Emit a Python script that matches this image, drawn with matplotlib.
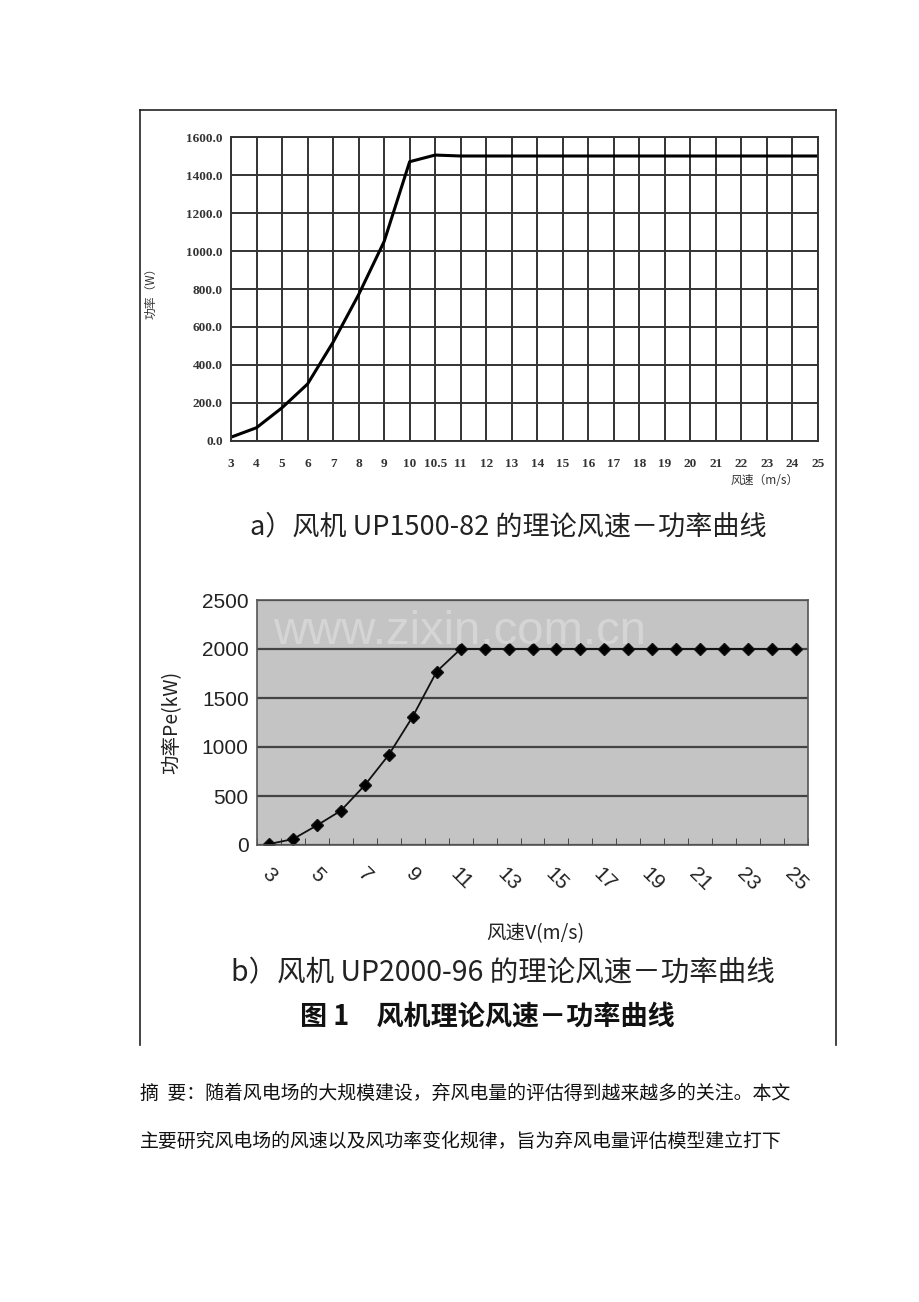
import matplotlib
matplotlib.use("Agg")
import matplotlib.pyplot as plt
from matplotlib.lines import Line2D
import numpy as np

plt.rcParams['font.family'] = ['Noto Sans CJK SC', 'DejaVu Sans']

# chart a
a_labels = ["3","4","5","6","7","8","9","10","10.5","11","12","13","14","15","16","17","18","19","20","21","22","23","24","25"]
a_values = [20,70,175,300,520,770,1050,1470,1505,1500,1500,1500,1500,1500,1500,1500,1500,1500,1500,1500,1500,1500,1500,1500]
a_yticks = [0,200,400,600,800,1000,1200,1400,1600]

# chart b
b_speeds = list(range(3, 26))
b_values = [10,60,200,350,610,920,1310,1770] + [2000]*15
b_yticks = [0,500,1000,1500,2000,2500]

fig = plt.figure(figsize=(9.2, 13.02), dpi=100)
W, H = 920, 1302
def fx(x): return x / W
def fy(y): return 1 - y / H

# frame
for (x0, y0, x1, y1) in [(140,110,836,110),(140,110,140,1045),(836,110,836,1045)]:
    fig.add_artist(Line2D([fx(x0), fx(x1)], [fy(y0), fy(y1)], color='#222222', lw=1.2))

# ---- chart a
ax1 = fig.add_axes([fx(231), fy(441), fx(818-231), (441-137)/H])
xa = np.arange(len(a_labels))
ax1.plot(xa, a_values, color='black', lw=2.2)
ax1.set_xlim(0, len(a_labels)-1)
ax1.set_ylim(0, 1600)
ax1.set_xticks(xa)
ax1.set_xticklabels(a_labels, family='Liberation Serif', fontsize=9.5, fontweight='bold', color='#333333')
ax1.set_yticks(a_yticks)
ax1.set_yticklabels([f"{v:.1f}" for v in a_yticks], family='Liberation Serif', fontsize=9.5, fontweight='bold', color='#333333')
ax1.grid(True, color='#333333', lw=1.4)
ax1.tick_params(length=0, pad=12)
ax1.tick_params(axis='y', pad=6)
for s in ax1.spines.values():
    s.set_color('#333333'); s.set_linewidth(1.4)
fig.text(fx(151), fy(290), "功率（W）", rotation=90, fontsize=8.5, ha='center', va='center', color='#333333')
fig.text(fx(765), fy(481), "风速（m/s）", fontsize=8.5, ha='center', va='center', color='#333333')
fig.text(fx(508), fy(527), "a）风机 UP1500-82 的理论风速－功率曲线", fontsize=19.5, ha='center', va='center', color='#222222')

# ---- chart b
ax2 = fig.add_axes([fx(257), fy(845), fx(808-257), (845-600)/H])
ax2.set_facecolor('#c4c4c4')
xb = np.arange(len(b_speeds)) + 0.5
ax2.plot(xb, b_values, color='#111111', lw=1.3, marker='D', markersize=6, markerfacecolor='black')
ax2.set_xlim(0, len(b_speeds))
ax2.set_ylim(0, 2500)
ax2.set_yticks(b_yticks)
ax2.set_yticklabels([str(v) for v in b_yticks], fontsize=15, family='Liberation Sans', color='#222222')
ax2.yaxis.grid(True, color='#444444', lw=1.6)
ax2.set_xticks(xb[::2])
ax2.set_xticklabels([str(v) for v in b_speeds[::2]], rotation=-45, ha='center', fontsize=15,
                    family='Liberation Sans', color='#222222')
ax2.tick_params(axis='x', length=0, pad=14)
ax2.tick_params(axis='y', length=0, pad=6)
ax2.set_xticks(np.arange(len(b_speeds)+1), minor=True)
ax2.tick_params(axis='x', which='minor', direction='in', length=5, color='#333333')
for s in ax2.spines.values():
    s.set_color('#555555'); s.set_linewidth(1.2)
fig.text(fx(172), fy(722), "功率Pe(kW)", rotation=90, fontsize=14, ha='center', va='center', color='#222222')
fig.text(fx(535), fy(934), "风速V(m/s)", fontsize=14, ha='center', va='center', color='#222222')
fig.text(fx(460), fy(632), "www.zixin.com.cn", fontsize=34, ha='center', va='center', color='#d9d9d9', alpha=0.85,
         family='Liberation Sans')
fig.text(fx(503), fy(973), "b）风机 UP2000-96 的理论风速－功率曲线", fontsize=20.5, ha='center', va='center', color='#222222')
fig.text(fx(487), fy(1017), "图 1　风机理论风速－功率曲线", fontsize=19.5, ha='center', va='center', color='#111111', fontweight='bold')

fig.text(fx(140), fy(1093), "摘  要：随着风电场的大规模建设，弃风电量的评估得到越来越多的关注。本文",
         fontsize=13.6, ha='left', va='center', color='#111111')
fig.text(fx(140), fy(1141), "主要研究风电场的风速以及风功率变化规律，旨为弃风电量评估模型建立打下",
         fontsize=13.6, ha='left', va='center', color='#111111')

fig.savefig("out.png", dpi=100)
